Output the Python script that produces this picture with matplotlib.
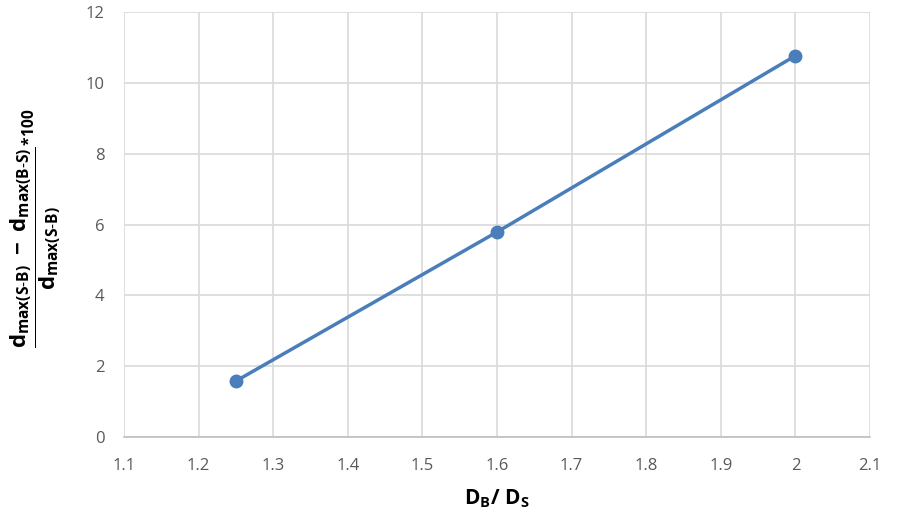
import matplotlib.pyplot as plt
import numpy as np

plt.rcParams['font.family'] = ['Open Sans', 'DejaVu Sans']
plt.rcParams['mathtext.fontset'] = 'custom'
plt.rcParams['mathtext.rm'] = 'Open Sans'
plt.rcParams['mathtext.bf'] = 'Open Sans:bold'
plt.rcParams['mathtext.it'] = 'Open Sans:italic'

# Data
ratio = [1.25, 1.6, 2.0]
diff_pct = [1.58, 5.79, 10.77]
x_ticks = [1.1, 1.2, 1.3, 1.4, 1.5, 1.6, 1.7, 1.8, 1.9, 2, 2.1]
y_ticks = [0, 2, 4, 6, 8, 10, 12]

LINE = '#4a7ebb'
GRID = '#d9d9d9'
TICK = '#595959'

fig = plt.figure(figsize=(9.01, 5.30), dpi=100)
ax = fig.add_axes([0.1376, 0.1755, 0.828, 0.8015])

ax.plot(ratio, diff_pct, color=LINE, linewidth=2.5, marker='o', markersize=9, zorder=3)

ax.set_xlim(1.1, 2.1)
ax.set_ylim(0, 12)
ax.set_xticks(x_ticks)
ax.set_xticklabels([f'{t:g}' for t in x_ticks])
ax.set_yticks(y_ticks)
ax.grid(color=GRID, linewidth=1.2)
ax.set_axisbelow(True)
for s in ['top', 'right', 'left']:
    ax.spines[s].set_visible(False)
ax.spines['bottom'].set_color('#bfbfbf')
ax.spines['bottom'].set_linewidth(1.2)
ax.tick_params(length=0, labelsize=12, labelcolor=TICK)
ax.tick_params(axis='x', pad=15)
ax.tick_params(axis='y', pad=14)

ax.set_xlabel(r'$\mathbf{D_B}$' + r'$\mathbf{/\ D_S}$', fontsize=15, labelpad=10)

# y label: fraction with *100, rotated
ylab = (r'$\mathbf{\dfrac{d_{max(S\text{-}B)}\ -\ d_{max(B\text{-}S)}}{d_{max(S\text{-}B)}}}$'
        r'$\mathbf{^{*100}}$')
fig.text(0.04, 0.57, ylab, rotation=90, fontsize=16, ha='center', va='center')

fig.savefig('out.png', dpi=100)
